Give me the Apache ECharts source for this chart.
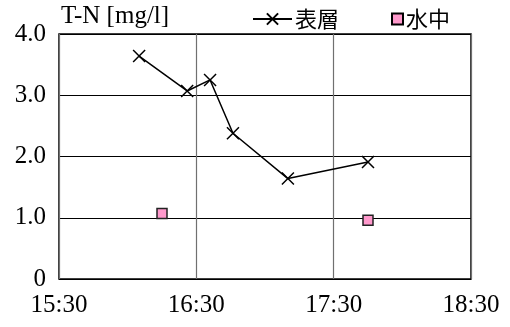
<!DOCTYPE html>
<html><head><meta charset="utf-8">
<script src="https://cdn.jsdelivr.net/npm/echarts@6/dist/echarts.min.js"></script>
<style>html,body{margin:0;padding:0;background:#fff}#c{width:510px;height:327px}</style>
</head><body><div id="c"></div>
<script>
const surfaceTimes = ['16:05','16:26','16:36','16:46','17:10','17:45'];
const surfaceValues = [3.64, 3.07, 3.25, 2.38, 1.64, 1.91];
const midTimes = ['16:15','17:45'];
const midValues = [1.07, 0.96];
const xTickLabels = ['15:30','16:30','17:30','18:30'];
const yTickLabels = ['0','1.0','2.0','3.0','4.0'];
const seriesNames = ['表層','水中'];
const yTitle = 'T-N [mg/l]';

const BASE = 15*60+30;
function toMin(t){const p=t.split(':');return (+p[0])*60+(+p[1])-BASE;}
const serif = '"Liberation Serif","Times New Roman",serif';
const cjk = '"Noto Sans CJK JP",sans-serif';
const chart = echarts.init(document.getElementById('c'));
chart.setOption({
  animation:false,
  backgroundColor:'#fff',
  title:{text:yTitle,left:56,top:-1,textStyle:{fontFamily:serif,fontSize:25,fontWeight:'normal',color:'#000'}},
  legend:[
    {top:3,left:247,itemWidth:39,itemHeight:14,
     textStyle:{fontFamily:cjk,fontSize:22,color:'#000',padding:[0,0,0,-2]},
     data:[{name:seriesNames[0]}]},
    {top:3,left:386,itemWidth:11,itemHeight:11,
     textStyle:{fontFamily:cjk,fontSize:22,color:'#000',padding:[0,0,0,-2]},
     data:[{name:seriesNames[1],icon:'rect',itemStyle:{color:'#FF99CC',borderColor:'#000',borderWidth:2}}]}
  ],
  grid:{left:59,right:39,top:34,bottom:48,show:true,borderColor:'#000',borderWidth:1.5,backgroundColor:'transparent'},
  xAxis:{type:'value',min:0,max:180,interval:60,
    axisLine:{show:false},axisTick:{show:false},
    splitLine:{show:true,lineStyle:{color:'#707070',width:1.2}},
    axisLabel:{margin:14,fontFamily:serif,fontSize:25,color:'#000',formatter:(v)=>xTickLabels[Math.round(v/60)]}},
  yAxis:{type:'value',min:0,max:4,interval:1,
    axisLine:{show:false},axisTick:{show:false},
    splitLine:{show:true,lineStyle:{color:'#000',width:1}},
    axisLabel:{margin:13,fontFamily:serif,fontSize:25,color:'#000',formatter:(v)=>yTickLabels[Math.round(v)]}},
  series:[
    {name:seriesNames[0],type:'line',
     data:surfaceTimes.map((t,i)=>[toMin(t),surfaceValues[i]]),
     symbol:'path://M0,0L10,10M10,0L0,10',symbolSize:12,
     lineStyle:{color:'#000',width:1.5},
     itemStyle:{color:'#000',borderColor:'#000',borderWidth:1.5}},
    {name:seriesNames[1],type:'scatter',
     data:midTimes.map((t,i)=>[toMin(t),midValues[i]]),
     symbol:'rect',symbolSize:10,
     itemStyle:{color:'#FF99CC',borderColor:'#222',borderWidth:1.5,opacity:1}}
  ]
});
</script></body></html>
